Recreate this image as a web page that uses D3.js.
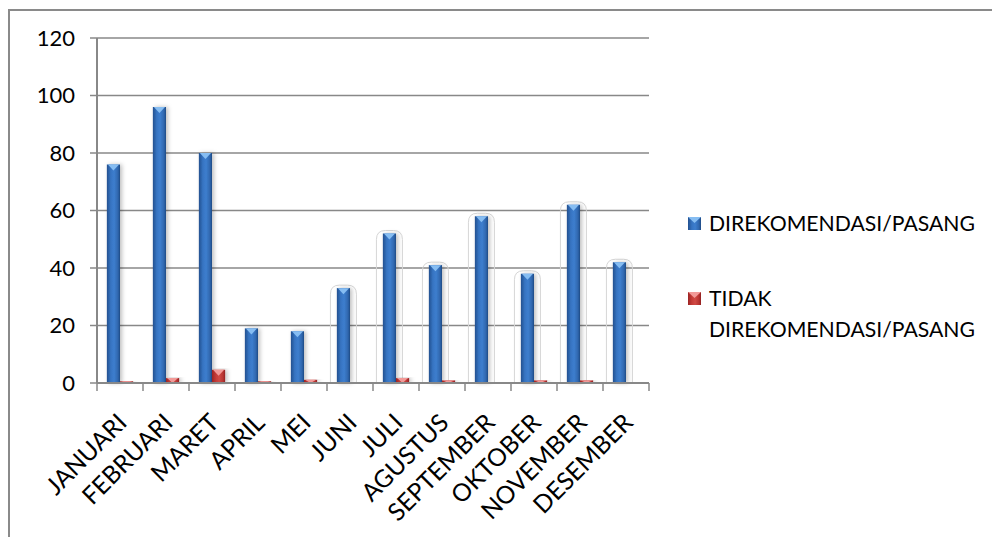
<!DOCTYPE html>
<html>
<head>
<meta charset="utf-8">
<script src="https://cdn.jsdelivr.net/npm/d3@7"></script>
<style>
  html, body { margin: 0; padding: 0; background: #ffffff; }
  svg { display: block; font-family: Lato, "Liberation Sans", Arial, sans-serif; }
</style>
</head>
<body>
<svg id="chart" width="992" height="537"></svg>
<script>
// Monthly counts of recommended / not-recommended installations
const months = ["JANUARI", "FEBRUARI", "MARET", "APRIL", "MEI", "JUNI",
                "JULI", "AGUSTUS", "SEPTEMBER", "OKTOBER", "NOVEMBER", "DESEMBER"];
const seriesNames = ["DIREKOMENDASI/PASANG", "TIDAK DIREKOMENDASI/PASANG"];
const recommended    = [76, 96, 80, 19, 18, 33, 52, 41, 58, 38, 62, 42];
const notRecommended = [0.6, 1.7, 4.6, 0.6, 1.1, 0, 1.7, 0.9, 0, 0.9, 0.9, 0];
const yTicks = [0, 20, 40, 60, 80, 100, 120];
// months whose blue column carries a faint glow outline
const haloMonths = ["JUNI", "JULI", "AGUSTUS", "SEPTEMBER", "OKTOBER", "NOVEMBER", "DESEMBER"];

const svg = d3.select("#chart");
const plot = { left: 97, right: 649, top: 38, bottom: 383 };

const rows = months.map((m, i) => ({ month: m, values: [recommended[i], notRecommended[i]] }));

const x = d3.scaleBand().domain(months).range([plot.left, plot.right]).paddingInner(0).paddingOuter(0);
const xs = d3.scaleBand().domain([0, 1]).range([0, x.bandwidth()]).paddingInner(0).paddingOuter(0.75);
const y = d3.scaleLinear().domain([0, 120]).range([plot.bottom, plot.top]);

// ---- definitions: gradients and shadow ----
const defs = svg.append("defs");
function hGrad(id, stops) {
  const g = defs.append("linearGradient").attr("id", id).attr("x1", 0).attr("x2", 1).attr("y1", 0).attr("y2", 0);
  stops.forEach(([o, c]) => g.append("stop").attr("offset", o).attr("stop-color", c));
}
hGrad("gBlue", [[0, "#22508f"], [0.3, "#3674c2"], [0.55, "#3d7ece"], [0.85, "#2f66ad"], [1, "#1f4a84"]]);
hGrad("gRed", [[0, "#9c2424"], [0.3, "#c53c38"], [0.55, "#d04a45"], [0.85, "#b73331"], [1, "#8f2020"]]);
const sh = defs.append("filter").attr("id", "shadow").attr("x", "-50%").attr("y", "-10%").attr("width", "200%").attr("height", "120%");
sh.append("feDropShadow").attr("dx", 2).attr("dy", 0).attr("stdDeviation", 2)
  .attr("flood-color", "#000").attr("flood-opacity", 0.25);

const fills = ["url(#gBlue)", "url(#gRed)"];
const capFills = ["#86bdf2", "#f29a98"];

// ---- outer frame ----
svg.append("rect").attr("x", 9).attr("y", 10).attr("width", 1000).attr("height", 560)
  .attr("fill", "none").attr("stroke", "#8a8a8a").attr("stroke-width", 2);

// ---- gridlines ----
svg.append("g").selectAll("line").data(yTicks.filter(t => t > 0)).join("line")
  .attr("x1", plot.left).attr("x2", plot.right)
  .attr("y1", d => y(d)).attr("y2", d => y(d))
  .attr("stroke", "#888888").attr("stroke-width", 1.5);

// ---- faint glow outlines ----
svg.append("g").selectAll("path").data(rows.filter(r => haloMonths.includes(r.month))).join("path")
  .attr("d", r => {
    const cx = x(r.month) + xs(0) + xs.bandwidth() / 2;
    const hw = 13, top = y(r.values[0]) - 3, bot = plot.bottom, rad = 9;
    return `M${cx - hw},${bot} L${cx - hw},${top + rad} Q${cx - hw},${top} ${cx - hw + rad},${top}
            L${cx + hw - rad},${top} Q${cx + hw},${top} ${cx + hw},${top + rad} L${cx + hw},${bot}`;
  })
  .attr("fill", "none").attr("stroke", "#d6d6d6").attr("stroke-width", 1);

// ---- bars ----
const groups = svg.append("g").selectAll("g").data(rows).join("g")
  .attr("transform", r => `translate(${x(r.month)},0)`);

const bars = groups.selectAll("g.bar")
  .data(r => r.values.map((v, s) => ({ v, s })).filter(d => d.v > 0))
  .join("g").attr("class", "bar");

bars.append("rect")
  .attr("x", d => xs(d.s)).attr("y", d => y(d.v))
  .attr("width", xs.bandwidth()).attr("height", d => plot.bottom - y(d.v))
  .attr("fill", d => fills[d.s]).attr("filter", "url(#shadow)");

bars.append("path")
  .attr("d", d => {
    const x0 = xs(d.s), x1 = x0 + xs.bandwidth(), t = y(d.v);
    const h = Math.min(6, plot.bottom - t);
    return `M${x0 + 1},${t} L${x1 - 1},${t} L${(x0 + x1) / 2},${t + h} Z`;
  })
  .attr("fill", d => capFills[d.s]);

// ---- axes ----
svg.append("line").attr("x1", plot.left).attr("x2", plot.left)
  .attr("y1", plot.top).attr("y2", plot.bottom).attr("stroke", "#888888").attr("stroke-width", 2);
svg.append("line").attr("x1", plot.left).attr("x2", plot.right)
  .attr("y1", plot.bottom).attr("y2", plot.bottom).attr("stroke", "#888888").attr("stroke-width", 2);

// y ticks and labels
svg.append("g").selectAll("line").data(yTicks).join("line")
  .attr("x1", plot.left - 7).attr("x2", plot.left)
  .attr("y1", d => y(d)).attr("y2", d => y(d))
  .attr("stroke", "#888888").attr("stroke-width", 1.5);
svg.append("g").selectAll("text").data(yTicks).join("text")
  .attr("x", 75).attr("y", d => y(d)).attr("dy", "0.36em")
  .attr("text-anchor", "end").attr("font-size", 22).attr("fill", "#000")
  .text(d => d);

// x ticks at band edges
const edges = months.map(m => x(m)).concat([plot.right]);
svg.append("g").selectAll("line").data(edges).join("line")
  .attr("x1", d => d).attr("x2", d => d)
  .attr("y1", plot.bottom).attr("y2", plot.bottom + 8)
  .attr("stroke", "#888888").attr("stroke-width", 1.5);

// rotated month labels
svg.append("g").selectAll("text").data(months).join("text")
  .attr("transform", m => `translate(${x(m) + x.bandwidth() / 2 + 2},418) rotate(-45)`)
  .attr("text-anchor", "end").attr("dy", "0.36em")
  .attr("font-size", 24.5).attr("fill", "#000")
  .text(m => m);

// ---- legend ----
const legend = svg.append("g");
const legendItems = [
  { s: 0, sy: 217, lines: ["DIREKOMENDASI/PASANG"], ty: 231 },
  { s: 1, sy: 292, lines: ["TIDAK", "DIREKOMENDASI/PASANG"], ty: 306 }
];
legendItems.forEach(it => {
  legend.append("rect").attr("x", 688).attr("y", it.sy).attr("width", 13).attr("height", 13)
    .attr("fill", fills[it.s]);
  legend.append("path")
    .attr("d", `M688,${it.sy} L701,${it.sy} L694.5,${it.sy + 6} Z`)
    .attr("fill", capFills[it.s]);
  const t = legend.append("text").attr("x", 709).attr("y", it.ty)
    .attr("font-size", 21.2).attr("fill", "#000");
  it.lines.forEach((ln, i) => {
    t.append("tspan").attr("x", 709).attr("dy", i === 0 ? 0 : 31).text(ln);
  });
});
</script>
</body>
</html>
